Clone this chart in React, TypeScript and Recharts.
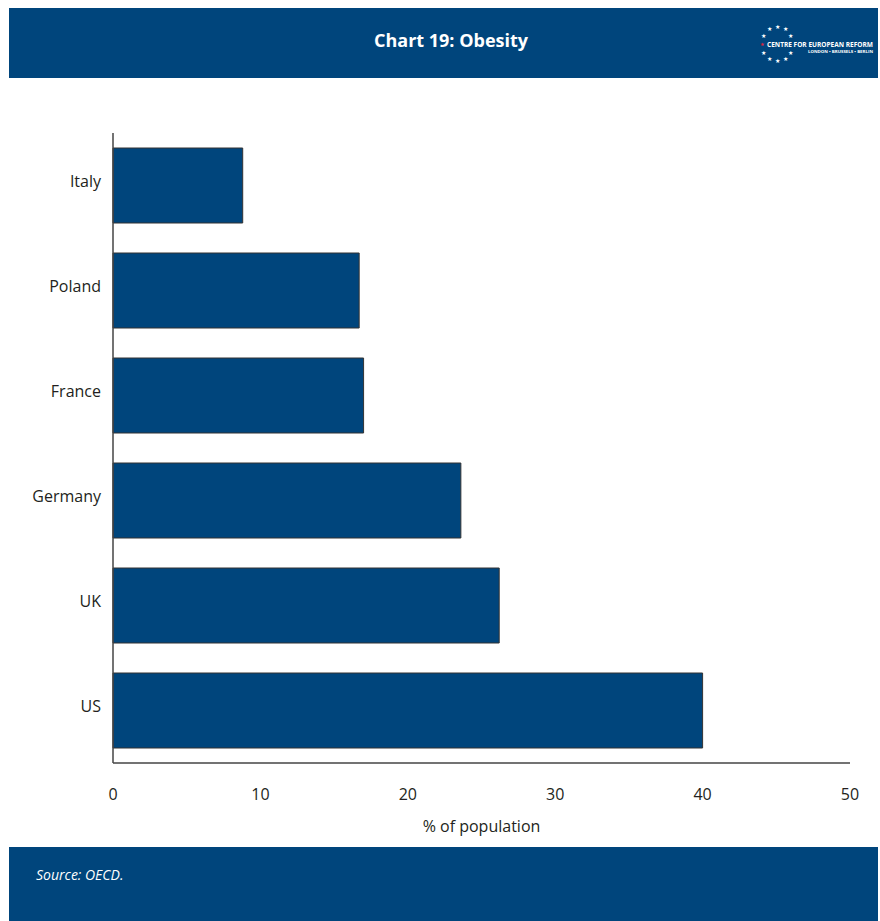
import { BarChart, Bar, XAxis, YAxis } from "recharts"

const countries = ["Italy", "Poland", "France", "Germany", "UK", "US"]
const obesity = [8.8, 16.7, 17.0, 23.6, 26.2, 40.0]
const xTicks = [0, 10, 20, 30, 40, 50]

const data = countries.map((c, i) => ({ country: c, value: obesity[i] }))

const navy = "#00457c"
const font = "'Open Sans', sans-serif"

function Logo() {
  // ring of stars, like the CER logo (gaps at 3 and 9 o'clock for the text)
  const stars = Array.from({ length: 12 }, (_, i) => i)
  return (
    <svg width={125} height={50} style={{ position: "absolute", left: 750, top: 18 }}>
      {stars.map((i) => {
        const a = (i / 12) * Math.PI * 2
        if (i === 3 || i === 9) return null
        return (
          <text key={i} x={27 + Math.sin(a) * 16} y={26 - Math.cos(a) * 17 + 2} fill="#fff" fontSize={6} textAnchor="middle">★</text>
        )
      })}
      <text x={12} y={28} fill="#e2233b" fontSize={5} textAnchor="middle">★</text>
      <text x={17} y={28.5} fill="#fff" fontSize={6.4} fontWeight={700} fontFamily={font} textLength={106} lengthAdjust="spacingAndGlyphs">CENTRE FOR EUROPEAN REFORM</text>
      <text x={58} y={35} fill="#fff" fontSize={4} fontWeight={700} fontFamily={font} textLength={65} lengthAdjust="spacingAndGlyphs">LONDON • BRUSSELS • BERLIN</text>
    </svg>
  )
}

export default function App() {
  return (
    <div style={{ position: "absolute", left: 0, top: 0, width: 880, height: 921, background: "#fff", fontFamily: font }}>
      <div style={{ position: "absolute", left: 9, top: 8, width: 869, height: 70, background: navy }}>
        <div style={{ position: "absolute", left: 0, width: 884, top: 20, textAlign: "center", color: "#fff", fontSize: 18, fontWeight: 700 }}>
          Chart 19: Obesity
        </div>
      </div>
      <Logo />
      <div style={{ position: "absolute", left: 0, top: 0 }}>
        <BarChart
          width={880}
          height={921}
          data={data}
          layout="vertical"
          barCategoryGap={15}
          margin={{ top: 133, right: 30, left: 13, bottom: 83 }}
        >
          <XAxis
            type="number"
            domain={[0, 50]}
            ticks={xTicks}
            height={75}
            axisLine={{ stroke: "#444", strokeWidth: 1.5 }}
            tickLine={false}
            tickSize={0}
            tickMargin={26}
            tick={{ fill: "#231f20", fontSize: 16, fontFamily: font }}
            label={{ value: "% of population", position: "insideBottom", offset: 6, fill: "#231f20", fontSize: 16, fontFamily: font }}
          />
          <YAxis
            type="category"
            dataKey="country"
            width={100}
            axisLine={{ stroke: "#444", strokeWidth: 1.5 }}
            tickLine={false}
            tickSize={0}
            tickMargin={12}
            tick={{ fill: "#231f20", fontSize: 16, fontFamily: font, dy: -4 }}
          />
          <Bar dataKey="value" fill={navy} stroke="#333" strokeWidth={1} isAnimationActive={false} />
        </BarChart>
      </div>
      <div style={{ position: "absolute", left: 9, top: 847, width: 869, height: 74, background: navy }}>
        <div style={{ position: "absolute", left: 27, top: 18, color: "#fff", fontSize: 14, fontStyle: "italic" }}>Source: OECD.</div>
      </div>
    </div>
  )
}
